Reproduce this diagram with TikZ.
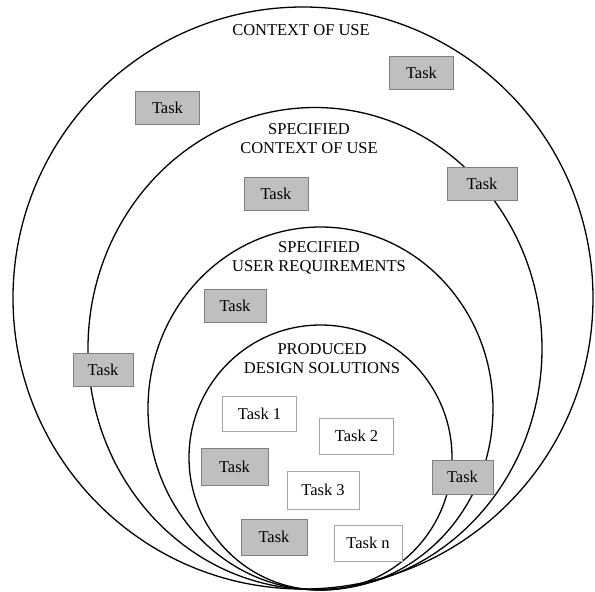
\documentclass[tikz,border=0pt]{standalone}
\usepackage{fontspec}
\setmainfont{Liberation Serif}

\tikzset{
  ring/.style={line width=1.3pt},
  task/.style={draw=gray, line width=0.8pt, fill=gray!50, minimum width=64pt, minimum height=33pt, inner sep=0pt},
  subtask/.style={draw=gray!70, line width=0.8pt, fill=white, minimum width=74pt, minimum height=36pt, inner sep=0pt},
  title/.style={align=center, inner sep=0pt}
}

\begin{document}
\begin{tikzpicture}[x=1pt, y=-1pt, font=\fontsize{16.5}{19}\selectfont]
\useasboundingbox (0,0) rectangle (595,592);

% the four nested ranges
\draw[ring] (303,298) ellipse [x radius=290pt, y radius=291pt];
\draw[ring] (315,348.5) ellipse [x radius=227pt, y radius=241pt];
\draw[ring] (320.5,408.5) ellipse [x radius=172.5pt, y radius=181.5pt];
\draw[ring] (320.5,457.5) ellipse [x radius=131.5pt, y radius=132.5pt];

\node[title] (use) at (301,30) {CONTEXT OF USE};
\node[title] (spec) at (309,138.5) {SPECIFIED\\CONTEXT OF USE};
\node[title] (req) at (319,257.5) {SPECIFIED\\USER REQUIREMENTS};
\node[title] (prod) at (322,358.5) {PRODUCED\\DESIGN SOLUTIONS};

% grey tasks
\node[task] (ta) at (421.5,73) {Task};
\node[task] (tb) at (167.5,108) {Task};
\node[task] (tc) at (276,193.5) {Task};
\node[task, minimum width=70pt] (td) at (482,183.5) {Task};
\node[task, minimum width=62pt] (te) at (235,305.5) {Task};
\node[task, minimum width=60pt] (tf) at (103,369.5) {Task};
\node[task, minimum width=67pt, minimum height=37pt] (tg) at (234.5,466.5) {Task};
\node[task, minimum width=61pt, minimum height=34pt] (th) at (462.5,477) {Task};
\node[task, minimum width=66pt, minimum height=36pt] (ti) at (274,537) {Task};

% design tasks
\node[subtask, minimum height=35pt] (t1) at (259.5,413.5) {Task 1};
\node[subtask] (t2) at (356.5,436) {Task 2};
\node[subtask, minimum width=72pt, minimum height=38pt] (t3) at (323,490) {Task 3};
\node[subtask, minimum width=68pt] (tn) at (368,543) {Task n};

\end{tikzpicture}
\end{document}
